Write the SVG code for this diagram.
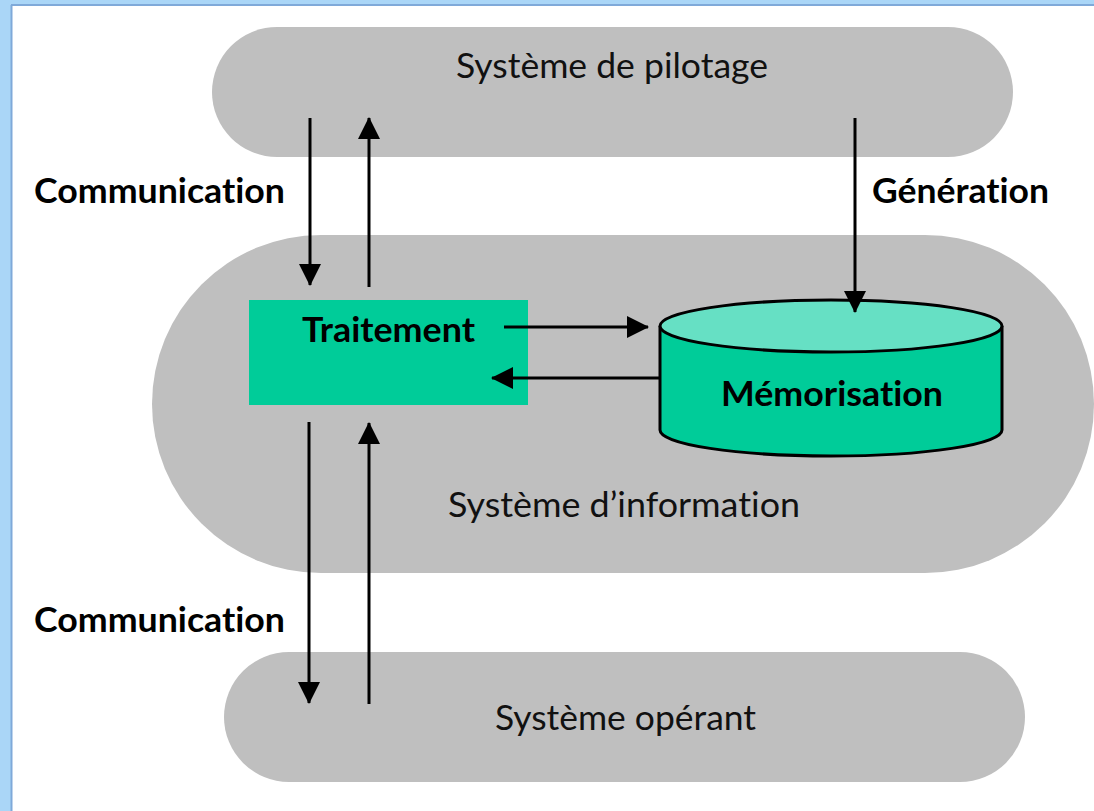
<svg xmlns="http://www.w3.org/2000/svg" width="1094" height="811" viewBox="0 0 1094 811">
  <style>
    .pill { fill: #bfbfbf; }
    .lbl { font-family: Lato, "Open Sans", "Liberation Sans", sans-serif; font-size: 35px; fill: #111; font-variant-ligatures: none; font-feature-settings: "liga" 0, "dlig" 0; }
    .b { font-weight: bold; fill: #000; }
    .conn { stroke: #000; stroke-width: 3; fill: none; }
    .cyl { stroke: #000; stroke-width: 3; }
  </style>
  <defs>
    <marker id="ah" viewBox="0 0 22 22" refX="21" refY="11" markerWidth="22" markerHeight="22" markerUnits="userSpaceOnUse" orient="auto">
      <path d="M0,0 L22,11 L0,22 Z" fill="#000"/>
    </marker>
  </defs>
  <rect x="0" y="0" width="1094" height="811" fill="#ffffff"/>
  <rect x="0" y="0" width="1094" height="5" fill="#aad6f7"/>
  <rect x="0" y="0" width="11" height="811" fill="#aad6f7"/>
  <line x1="11" y1="5" x2="1094" y2="5" stroke="#7fa9d9" stroke-width="2"/>
  <line x1="11.5" y1="5" x2="11.5" y2="811" stroke="#7fa9d9" stroke-width="2"/>

  <g id="pilotage">
    <rect class="pill" x="212" y="27" width="801" height="130" rx="65"/>
    <text class="lbl" x="456" y="78" textLength="312" lengthAdjust="spacingAndGlyphs">Système de pilotage</text>
  </g>
  <g id="information">
    <rect class="pill" x="152" y="235" width="942" height="338" rx="169"/>
    <text class="lbl" x="448" y="517" textLength="352" lengthAdjust="spacingAndGlyphs">Système d’information</text>
  </g>
  <g id="operant">
    <rect class="pill" x="224" y="652" width="801" height="130" rx="65"/>
    <text class="lbl" x="495" y="730" textLength="261" lengthAdjust="spacingAndGlyphs">Système opérant</text>
  </g>
  <g id="traitement">
    <rect x="249" y="300" width="279" height="105" fill="#00cc99"/>
    <text class="lbl b" x="302" y="342" textLength="173" lengthAdjust="spacingAndGlyphs">Traitement</text>
  </g>
  <g id="memorisation">
    <path class="cyl" d="M660,326 L660,430 A171,26 0 0 0 1002,430 L1002,326" fill="#00cc99"/>
    <ellipse class="cyl" cx="831" cy="326" rx="171" ry="26" fill="#66e0c4"/>
    <text class="lbl b" x="721" y="406" textLength="222" lengthAdjust="spacingAndGlyphs">Mémorisation</text>
  </g>

  <g id="connectors">
    <line class="conn" x1="310" y1="118" x2="310" y2="285" marker-end="url(#ah)"/>
    <line class="conn" x1="369" y1="287" x2="369" y2="118" marker-end="url(#ah)"/>
    <line class="conn" x1="855" y1="118" x2="855" y2="312" marker-end="url(#ah)"/>
    <line class="conn" x1="504" y1="327" x2="648" y2="327" marker-end="url(#ah)"/>
    <line class="conn" x1="660" y1="378" x2="492" y2="378" marker-end="url(#ah)"/>
    <line class="conn" x1="309" y1="422" x2="309" y2="703" marker-end="url(#ah)"/>
    <line class="conn" x1="369" y1="704" x2="369" y2="423" marker-end="url(#ah)"/>
  </g>

  <g id="labels">
    <text class="lbl b" x="34" y="203" textLength="251" lengthAdjust="spacingAndGlyphs">Communication</text>
    <text class="lbl b" x="872" y="203" textLength="177" lengthAdjust="spacingAndGlyphs">Génération</text>
    <text class="lbl b" x="34" y="632" textLength="251" lengthAdjust="spacingAndGlyphs">Communication</text>
  </g>
</svg>
